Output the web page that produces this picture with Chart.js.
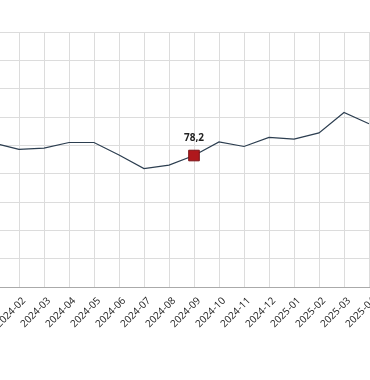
<!DOCTYPE html>
<html>
<head>
<meta charset="utf-8">
<script src="https://cdn.jsdelivr.net/npm/chart.js@4"></script>
<style>
  html, body { margin: 0; padding: 0; background: #fff; overflow: hidden; }
  #wrap { position: absolute; left: -66px; top: 0; width: 460px; height: 380px; }
</style>
</head>
<body>
<div id="wrap"><canvas id="chart" width="460" height="380"></canvas></div>
<script>
const months = ["2024-01", "2024-02", "2024-03", "2024-04", "2024-05", "2024-06", "2024-07", "2024-08",
  "2024-09", "2024-10", "2024-11", "2024-12", "2025-01", "2025-02", "2025-03", "2025-04"]
const values = [80.4, 79.3, 79.5, 80.5, 80.5, 78.3, 75.9, 76.5, 78.2, 80.6, 79.8, 81.4, 81.1, 82.2, 85.8, 83.8]
const highlightMonth = "2024-09"
const yMin = 55
const yMax = 100
const yStep = 5

const hi = months.indexOf(highlightMonth)

// draws the value above the highlighted point
const pointLabel = {
  id: "pointLabel",
  afterDatasetsDraw(chart) {
    const pt = chart.getDatasetMeta(0).data[hi]
    const ctx = chart.ctx
    ctx.save()
    ctx.font = "bold 10px 'Open Sans', sans-serif"
    ctx.fillStyle = "#222"
    ctx.textAlign = "center"
    ctx.textBaseline = "bottom"
    ctx.fillText(values[hi].toLocaleString("de-DE"), pt.x, pt.y - 12)
    ctx.restore()
  }
}

new Chart(document.getElementById("chart"), {
  type: "line",
  data: {
    labels: months,
    datasets: [{
      data: values,
      borderColor: "#2c3e50",
      borderWidth: 1.2,
      tension: 0,
      fill: false,
      pointStyle: "rect",
      pointRadius: values.map((v, i) => i === hi ? 7.5 : 0),
      pointBackgroundColor: "#b0181c",
      pointBorderColor: "#7a1014",
      pointBorderWidth: 1
    }]
  },
  options: {
    responsive: false,
    animation: false,
    layout: { padding: { left: 0, right: 25, top: 32, bottom: 0 } },
    plugins: {
      legend: { display: false },
      tooltip: { enabled: false }
    },
    scales: {
      x: {
        afterFit: (s) => { s.height = 93 },
        grid: { color: "#dcdcdc", drawTicks: false },
        border: { color: "#aaa" },
        ticks: {
          autoSkip: false,
          maxRotation: 45,
          minRotation: 45,
          padding: 8,
          labelOffset: 5,
          color: "#222",
          font: { family: "'Open Sans', sans-serif", size: 10 }
        }
      },
      y: {
        min: yMin,
        max: yMax,
        afterFit: (s) => { s.width = 60 },
        grid: { color: "#dcdcdc", drawTicks: false },
        border: { display: false },
        ticks: { stepSize: yStep, color: "#222", font: { size: 10 } }
      }
    }
  },
  plugins: [pointLabel]
})
</script>
</body>
</html>
